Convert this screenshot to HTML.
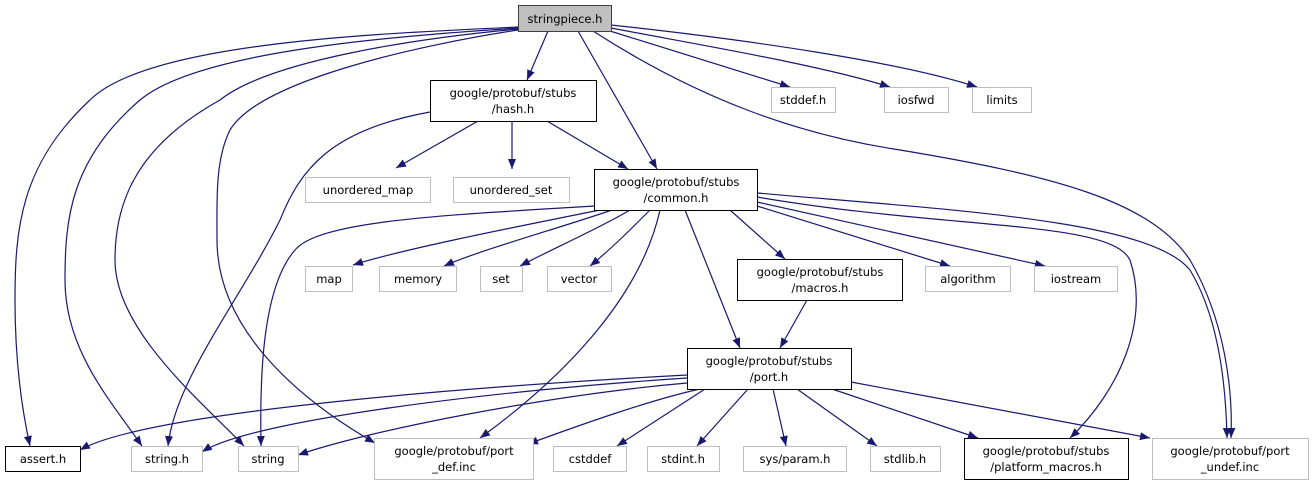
<!DOCTYPE html>
<html><head><meta charset="utf-8"><style>
body{margin:0;background:#fff}
svg{display:block}
text{font-family:"DejaVu Sans","Liberation Sans",sans-serif;font-size:11.5px;fill:#000}
</style></head><body>
<svg width="1313" height="484" viewBox="0 0 1313 484" xmlns="http://www.w3.org/2000/svg">
<defs><marker id="a" markerWidth="10" markerHeight="8" refX="10" refY="4" orient="auto" markerUnits="userSpaceOnUse"><path d="M0,0 L10,4 L0,8 z" fill="#191970"/></marker></defs>
<g fill="none" stroke="#191970" stroke-width="1.2" marker-end="url(#a)">
<path d="M548,31 L527,80"/>
<path d="M578,31 L657,169"/>
<path d="M610,31 L790,87"/>
<path d="M611,28 C700,45 820,65 890,87"/>
<path d="M611,25 C750,40 900,62 977,87"/>
<path d="M593,31 C700,100 800,135 900,150 C1050,175 1150,200 1190,260 C1225,320 1233,390 1231,438"/>
<path d="M518,27 C400,33 150,40 90,100 C20,165 15,230 15,300 C15,360 22,410 30,446"/>
<path d="M518,28 C400,36 200,50 140,100 C70,160 65,220 65,280 C65,350 110,400 142,446"/>
<path d="M518,29 C420,38 270,60 220,100 C130,150 115,210 115,260 C115,330 200,400 244,446"/>
<path d="M518,30 C420,45 260,80 230,130 C215,160 217,200 217,240 C217,330 300,400 375,443"/>
<path d="M430,112 C330,130 300,170 280,220 C240,300 175,380 168,446"/>
<path d="M512,121 L512,169"/>
<path d="M478,121 L396,168"/>
<path d="M547,121 L628,169"/>
<path d="M594,206 C450,215 320,220 295,250 C260,290 260,390 261,446"/>
<path d="M600,210 C500,230 400,250 353,265"/>
<path d="M612,210 C560,228 480,250 444,266"/>
<path d="M630,210 C600,228 550,250 520,266"/>
<path d="M650,210 C630,230 610,250 590,266"/>
<path d="M660,210 C640,300 560,380 480,438"/>
<path d="M685,210 L740,348"/>
<path d="M730,210 L785,259"/>
<path d="M757,206 L950,266"/>
<path d="M757,202 L1045,266"/>
<path d="M757,197 C950,230 1110,220 1130,260 C1150,320 1120,390 1070,438"/>
<path d="M757,193 C950,210 1150,220 1190,270 C1220,320 1226,390 1227,438"/>
<path d="M807,300 L780,348"/>
<path d="M687,375 C500,385 150,410 80,450"/>
<path d="M687,378 C500,390 250,420 202,452"/>
<path d="M687,383 C550,395 370,430 298,455"/>
<path d="M700,389 C650,400 580,425 528,444"/>
<path d="M705,389 L617,446"/>
<path d="M748,389 L697,446"/>
<path d="M773,389 L786,446"/>
<path d="M797,389 L877,446"/>
<path d="M832,389 L978,438"/>
<path d="M851,382 L1150,438"/>
</g>
<g stroke-width="1">
<rect x="518.5" y="5.5" width="93" height="26" fill="#bfbfbf" stroke="#404040"/>
<rect x="430.5" y="80.5" width="166" height="41" fill="#fff" stroke="#000"/>
<rect x="594.5" y="169.5" width="163" height="41" fill="#fff" stroke="#000"/>
<rect x="737.5" y="259.5" width="165" height="41" fill="#fff" stroke="#000"/>
<rect x="687.5" y="348.5" width="164" height="41" fill="#fff" stroke="#000"/>
<rect x="5.5" y="446.5" width="75" height="25" fill="#fff" stroke="#000"/>
<rect x="964.5" y="438.5" width="164" height="41" fill="#fff" stroke="#000"/>
<g fill="#fff" stroke="#bfbfbf">
<rect x="771.5" y="87.5" width="64" height="25"/>
<rect x="884.5" y="87.5" width="64" height="25"/>
<rect x="972.5" y="87.5" width="59" height="25"/>
<rect x="305.5" y="177.5" width="125" height="25"/>
<rect x="453.5" y="177.5" width="116" height="25"/>
<rect x="305.5" y="266.5" width="47" height="25"/>
<rect x="379.5" y="266.5" width="77" height="25"/>
<rect x="480.5" y="266.5" width="42" height="25"/>
<rect x="547.5" y="266.5" width="64" height="25"/>
<rect x="925.5" y="266.5" width="85" height="25"/>
<rect x="1034.5" y="266.5" width="83" height="25"/>
<rect x="131.5" y="446.5" width="71" height="25"/>
<rect x="238.5" y="446.5" width="60" height="25"/>
<rect x="374.5" y="438.5" width="159" height="41"/>
<rect x="553.5" y="446.5" width="73" height="25"/>
<rect x="647.5" y="446.5" width="72" height="25"/>
<rect x="743.5" y="446.5" width="103" height="25"/>
<rect x="870.5" y="446.5" width="70" height="25"/>
<rect x="1152.5" y="438.5" width="156" height="41"/>
</g></g>
<g text-anchor="middle">
<text x="565" y="23">stringpiece.h</text>
<text x="513" y="97">google/protobuf/stubs</text><text x="513" y="113">/hash.h</text>
<text x="676" y="186">google/protobuf/stubs</text><text x="676" y="202">/common.h</text>
<text x="820" y="276">google/protobuf/stubs</text><text x="820" y="292">/macros.h</text>
<text x="769" y="365">google/protobuf/stubs</text><text x="769" y="381">/port.h</text>
<text x="1046" y="455">google/protobuf/stubs</text><text x="1046" y="471">/platform_macros.h</text>
<text x="454" y="455">google/protobuf/port</text><text x="454" y="471">_def.inc</text>
<text x="1230" y="455">google/protobuf/port</text><text x="1230" y="471">_undef.inc</text>
<text x="803" y="104">stddef.h</text>
<text x="916" y="104">iosfwd</text>
<text x="1002" y="104">limits</text>
<text x="368" y="194">unordered_map</text>
<text x="511" y="194">unordered_set</text>
<text x="329" y="283">map</text>
<text x="418" y="283">memory</text>
<text x="501" y="283">set</text>
<text x="579" y="283">vector</text>
<text x="968" y="283">algorithm</text>
<text x="1076" y="283">iostream</text>
<text x="43" y="463">assert.h</text>
<text x="167" y="463">string.h</text>
<text x="268" y="463">string</text>
<text x="590" y="463">cstddef</text>
<text x="683" y="463">stdint.h</text>
<text x="795" y="463">sys/param.h</text>
<text x="905" y="463">stdlib.h</text>
</g>
</svg>
</body></html>
